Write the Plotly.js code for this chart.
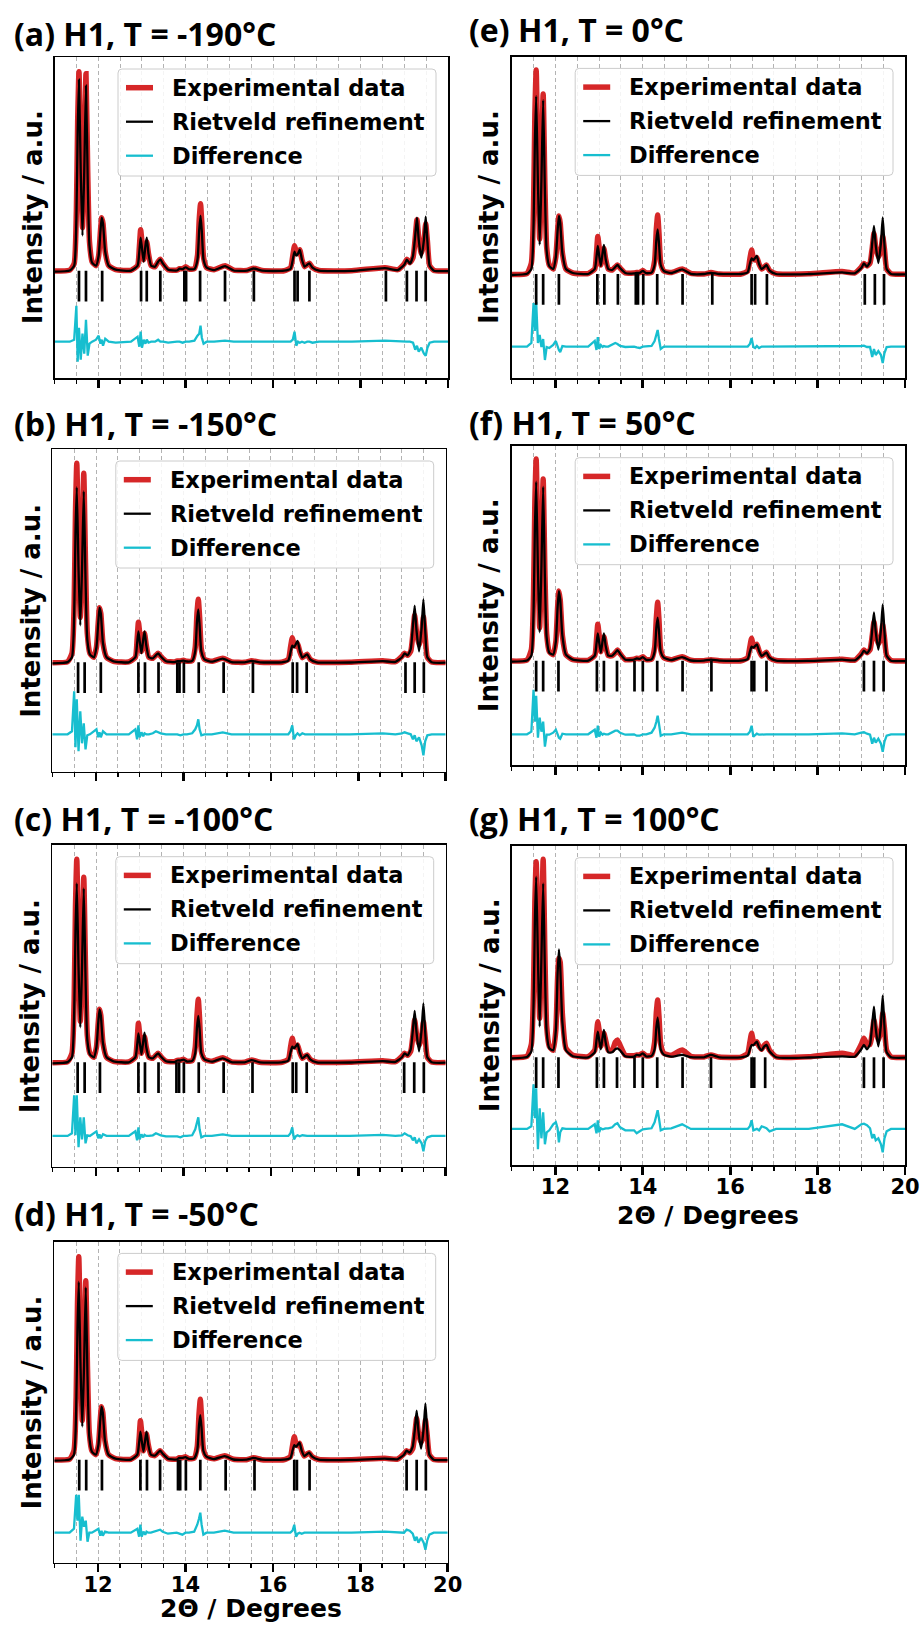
<!DOCTYPE html>
<html>
<head>
<meta charset="utf-8">
<script src="https://cdn.plot.ly/plotly-3.0.1.min.js"></script>
<style>
html, body { margin: 0; padding: 0; background: #fff; }
#chart { width: 922px; height: 1625px; }
</style>
</head>
<body>
<div id="chart"></div>
<script>
// 2θ sampling positions (degrees) shared by every pattern
const twoTheta = [
  11.00, 11.35, 11.45, 11.50, 11.53, 11.56, 11.60, 11.64, 11.68, 11.72,
  11.76, 11.80, 11.86, 11.95, 12.01, 12.05, 12.08, 12.11, 12.16, 12.24,
  12.40, 12.75, 12.90, 12.94, 12.97, 13.00, 13.04, 13.08, 13.11, 13.15,
  13.21, 13.30, 13.37, 13.42, 13.48, 13.60, 13.80, 13.86, 13.93, 14.00,
  14.08, 14.20, 14.27, 14.31, 14.34, 14.37, 14.41, 14.48, 14.65, 14.90,
  15.10, 15.40, 15.56, 15.75, 16.25, 16.40, 16.45, 16.49, 16.53, 16.57,
  16.61, 16.66, 16.72, 16.78, 16.83, 16.90, 17.05, 17.80, 18.56, 18.85,
  19.00, 19.06, 19.13, 19.20, 19.25, 19.29, 19.33, 19.39, 19.45, 19.49,
  19.53, 19.58, 19.68, 20.00
];

const seriesNames = ['Experimental data', 'Rietveld refinement', 'Difference'];
const panelTitles = [
  '(a) H1, T = -190°C', '(b) H1, T = -150°C', '(c) H1, T = -100°C', '(d) H1, T = -50°C',
  '(e) H1, T = 0°C', '(f) H1, T = 50°C', '(g) H1, T = 100°C'
];
const xTickLabels = ['12', '14', '16', '18', '20'];
const xTickValues = [12, 14, 16, 18, 20];

// (a) -190 °C
const obsA = [
  0.3, 0.8, 4, 30, 75, 100, 55, 22, 55, 99,
  50, 15, 5, 3, 8, 20, 27, 24, 10, 3,
  1, 0.7, 3, 12, 21, 15, 6, 12, 15, 9,
  3, 2.5, 5, 6.2, 4, 1, 0.8, 1.5, 1.5, 2.5,
  1.3, 1.5, 8, 26, 34, 24, 7, 2, 1, 3,
  0.8, 0.6, 1.7, 0.6, 0.5, 2, 8, 13, 10, 9,
  11, 6, 2.5, 3.5, 4.2, 2, 0.6, 0.5, 2, 1,
  4, 6.2, 4.5, 7, 17, 26, 17, 9, 15, 24,
  15, 3, 0.6, 0.4
];
const calcA = [
  0, 0.6, 3, 26, 70, 96, 50, 18, 50, 93,
  45, 13, 4.5, 3, 8, 20, 27, 24, 10, 3,
  1, 0.5, 3, 10, 17, 12, 5, 13, 17, 9,
  3, 2.5, 5, 6.2, 4, 1, 0.6, 1.5, 1.3, 2.2,
  1.2, 1.3, 6, 21, 28, 20, 6, 2, 0.8, 2.8,
  0.6, 0.5, 1.6, 0.5, 0.5, 1.5, 6, 10, 8, 9,
  11, 6, 2.5, 3.5, 4.2, 2, 0.5, 0.4, 1.8, 0.8,
  3.5, 6, 4, 8, 18, 27, 16, 7, 16, 27.5,
  15, 3, 0.5, 0.3
];
const diffA = [
  -35, -35, -34, -17, -45, -28, -44, -31, -41, -24,
  -42, -36, -35, -34, -32, -36, -34, -37, -33.5, -35,
  -35.5, -35, -32.5, -37.5, -30, -38, -34, -36, -34, -35.5,
  -35, -35, -34, -35, -35, -35.5, -35, -35, -35.5, -35,
  -35, -34.5, -32, -31, -27, -33, -36, -35, -35, -34.5,
  -35, -35, -35, -35, -35, -35, -34, -30, -37, -35,
  -35.5, -35, -35.5, -35, -35, -35.5, -35, -35, -34.5, -35,
  -35, -35, -35, -35.5, -39, -37, -40, -38, -41, -42,
  -38, -35.5, -35, -35
];
const reflA = [11.56, 11.72, 12.09, 12.98, 13.11, 13.42, 13.97, 14.01, 14.33, 14.90, 15.56, 16.49, 16.56, 16.83, 18.58, 19.06, 19.28, 19.49];

// (b) -150 °C
const obsB = [
  0.3, 0.8, 5, 30, 75, 100, 58, 23, 55, 95,
  50, 15, 5, 3, 8, 20, 27.8, 25, 10, 3,
  1, 0.7, 3, 12, 20.5, 15, 6, 12, 15, 9,
  3, 2.5, 4, 5, 3.5, 1, 0.7, 1.2, 1.2, 1.5,
  1, 1.3, 8, 25, 32, 23, 7, 2, 1, 2.5,
  0.7, 0.5, 1.3, 0.5, 0.5, 2, 8, 12.8, 9.5, 8.5,
  10, 6, 2.8, 3.8, 4.5, 2, 0.6, 0.5, 1.3, 0.8,
  3.5, 5, 4, 6, 15, 24, 16, 9, 14, 23.3,
  14, 3, 0.6, 0.4
];
const calcB = [
  0, 0.6, 3, 24, 65, 88, 47, 19, 47, 86,
  42, 12, 4.5, 3, 8, 20, 27.8, 25, 10, 3,
  1, 0.5, 3, 10, 16, 11, 5, 12, 16, 9,
  3, 2.5, 4, 5, 3.5, 1, 0.6, 1.1, 1.1, 1.3,
  0.9, 1.2, 6, 21, 27, 19, 6, 2, 0.8, 2.3,
  0.6, 0.5, 1.2, 0.5, 0.5, 1.4, 5.5, 8.8, 8, 9.5,
  11.2, 6.5, 2.8, 3.8, 4.5, 2, 0.5, 0.4, 1.1, 0.7,
  3, 5, 4, 7, 19, 28.8, 17, 6, 18, 32,
  17, 3, 0.5, 0.3
];
const diffB = [
  -35.5, -35.5, -34, -14, -42, -18, -44, -24, -40, -30,
  -43, -36, -35.5, -34, -33, -37, -34.5, -37, -34, -35.5,
  -35.5, -35.5, -33, -38, -31, -37, -34.5, -36.5, -35, -35.5,
  -35.5, -35, -34, -34.5, -35, -35.5, -35.5, -35.5, -36, -35.5,
  -35.5, -35, -33, -31, -28, -33, -36, -35.5, -35.5, -34.5,
  -35.5, -35.5, -35.5, -35.5, -35.5, -35.5, -34, -31, -38, -36,
  -35, -36, -35, -35.5, -35.5, -35.5, -35.5, -35.5, -35, -35.5,
  -35, -34.5, -35, -35.5, -38, -36, -39, -37, -41, -46,
  -39, -36, -35.5, -35.5
];
const reflB = [11.59, 11.74, 12.11, 12.97, 13.12, 13.43, 13.86, 13.91, 14.01, 14.35, 14.92, 15.59, 16.50, 16.60, 16.82, 19.08, 19.29, 19.50];

// (c) -100 °C
const obsC = [
  0.3, 0.8, 5, 32, 78, 102, 58, 21, 52, 93,
  48, 14, 5, 3, 8, 20, 27, 24, 10, 3,
  1, 0.7, 3, 11, 20, 14, 5, 10, 13.3, 8,
  3, 2.5, 4, 5, 3.5, 1, 0.8, 1.5, 1.5, 2,
  1, 1.3, 8, 24, 32, 22, 6, 2, 1, 2.8,
  0.7, 0.5, 1.7, 0.5, 0.5, 2, 8, 12.5, 9, 8,
  9.2, 5.5, 2.5, 3.5, 4.2, 2, 0.6, 0.5, 1.3, 0.8,
  3.5, 5, 4, 6, 14, 21.7, 15, 9, 13, 20.8,
  13, 3, 0.6, 0.4
];
const calcC = [
  0, 0.6, 3, 25, 66, 90, 48, 18, 48, 87.5,
  43, 12, 4.5, 3, 8, 20, 27, 24, 10, 3,
  1, 0.5, 3, 9, 15, 10.5, 4.5, 11, 15.3, 8,
  3, 2.5, 4, 5, 3.5, 1, 0.6, 1.4, 1.4, 1.8,
  0.9, 1.2, 5, 18, 23.7, 17, 5, 2, 0.8, 2.5,
  0.6, 0.5, 1.6, 0.5, 0.5, 1.4, 5.5, 8.3, 7.5, 8.5,
  9.7, 5.5, 2.5, 3.5, 4.2, 2, 0.5, 0.4, 1.1, 0.7,
  3, 5, 4, 7, 17, 26.2, 16, 6, 17, 30,
  16, 3, 0.5, 0.3
];
const diffC = [
  -36.3, -36.3, -35, -16, -36, -16, -42, -27, -38, -27,
  -40, -36, -36.3, -35, -34, -37.5, -35.5, -37.5, -35.5, -36.3,
  -36.3, -36.3, -34, -38.5, -32, -38, -35.5, -37, -35.8, -36.3,
  -36.3, -36, -35, -35.5, -36, -36.5, -36.3, -36.5, -37, -36.3,
  -36.3, -36, -33, -30, -27, -33, -37, -36.3, -36.3, -35.5,
  -36.3, -36.3, -36.3, -36.3, -36.3, -36.3, -35, -32, -38, -36.5,
  -36, -36.5, -36, -36.3, -36.3, -36.3, -36.3, -36.3, -35.8, -36.3,
  -36, -35, -36, -36.5, -38.5, -37, -40, -38, -40, -44,
  -39, -37, -36.3, -36.3
];
const reflC = [11.58, 11.74, 12.09, 12.97, 13.12, 13.43, 13.84, 13.90, 14.01, 14.35, 14.92, 15.58, 16.50, 16.58, 16.82, 19.05, 19.28, 19.50];

// (d) -50 °C
const obsD = [
  0.3, 0.8, 5, 32, 78, 102, 57, 20, 50, 90,
  46, 14, 5, 3, 8, 20, 27, 24, 10, 3,
  1, 0.7, 3, 11, 20, 14, 5, 10, 13.3, 8,
  3, 2.5, 4, 5, 3.5, 1, 0.8, 1.5, 1.5, 2,
  1, 1.3, 7, 23, 30.7, 21, 6, 2, 1, 2.5,
  0.7, 0.5, 1.5, 0.5, 0.5, 2, 7.5, 12, 8.5, 7.5,
  8.7, 5, 2.3, 3.3, 4, 2, 0.6, 0.5, 1.2, 0.8,
  3.5, 5, 4, 6, 14, 21.2, 14, 9, 13, 20.3,
  13, 3, 0.6, 0.4
];
const calcD = [
  0, 0.6, 3, 25, 66, 89.5, 47, 17, 47, 86.7,
  42, 12, 4.5, 3, 8, 20, 27, 24, 10, 3,
  1, 0.5, 3, 9, 14.5, 10, 4.5, 10.5, 14.5, 8,
  3, 2.5, 4, 5, 3.5, 1, 0.6, 1.4, 1.4, 1.8,
  0.9, 1.2, 5, 17.5, 22.8, 16, 5, 2, 0.8, 2.3,
  0.6, 0.5, 1.4, 0.5, 0.5, 1.3, 5, 7.8, 7, 8,
  9, 5, 2.3, 3.3, 4, 2, 0.5, 0.4, 1, 0.7,
  3, 5, 4, 7, 16, 25, 15, 6, 16, 28.7,
  15, 3, 0.5, 0.3
];
const diffD = [
  -36, -36, -34, -17, -30, -17, -40, -28, -33, -30,
  -40.5, -36, -36, -35, -34, -37.5, -35, -37.5, -35.5, -36,
  -36, -36, -34, -38, -32, -38, -35.5, -37, -35.5, -36,
  -36, -35.5, -35, -34.5, -35.5, -36.5, -36, -36.5, -37, -36,
  -36, -35.5, -32, -29, -26, -32, -37, -36, -36, -35,
  -36, -36, -36, -36, -36, -36, -35, -32, -38, -36.5,
  -36, -36.5, -36, -36, -36, -36, -36, -36, -35.5, -36,
  -36, -34.5, -35, -36.5, -40, -38, -41, -38.5, -41, -44.5,
  -40, -37, -36, -36
];
const reflD = [11.57, 11.73, 12.09, 12.97, 13.12, 13.42, 13.83, 13.88, 14.01, 14.34, 14.92, 15.58, 16.49, 16.55, 16.84, 19.06, 19.29, 19.50];

// (e) 0 °C
const obsE = [
  0.3, 0.8, 6, 34, 80, 102.5, 55, 18, 50, 90.5,
  45, 14, 5, 3, 9, 22, 29.5, 26, 11, 3,
  1, 0.7, 3, 11, 19.2, 14, 5, 10, 13.3, 8,
  3, 2.5, 4, 5, 3.5, 1, 1, 1.2, 1.2, 2.2,
  1, 1.3, 7, 23, 30, 21, 6, 2, 1.2, 3,
  0.8, 0.5, 1.2, 0.5, 0.5, 2, 8, 12.5, 8.5, 7.5,
  8.8, 5.5, 3, 4, 5, 2.2, 0.6, 0.6, 1.7, 1,
  4, 5.8, 4.5, 6, 13.5, 20.8, 14, 9, 12.5, 19.2,
  13, 3, 0.6, 0.4
];
const calcE = [
  0, 0.6, 3, 25, 66, 89.5, 46, 15, 47, 87.5,
  42, 12, 4.5, 3, 9, 22, 29.5, 26, 11, 3,
  1, 0.5, 3, 9, 14.5, 10, 4.5, 11, 15, 8,
  3, 2.5, 4, 5, 3.5, 1, 0.8, 1.1, 1.1, 2,
  0.9, 1.2, 5, 17.5, 22.8, 16, 5, 2, 1, 2.8,
  0.6, 0.5, 1.1, 0.5, 0.5, 1.4, 5.5, 8.3, 7.5, 8.5,
  9.5, 5.5, 3, 4, 5, 2.2, 0.5, 0.5, 1.3, 0.8,
  3.5, 5.8, 4.2, 6.5, 16, 24.5, 15, 6, 16, 28.8,
  15, 3, 0.5, 0.3
];
const diffE = [
  -35.8, -35.8, -34, -14, -28, -13.5, -34, -30, -36, -32,
  -42.5, -36, -36.5, -35, -33, -36, -37.5, -38.5, -35.5, -35.8,
  -35.8, -35.8, -33, -37.5, -31, -37, -35, -36, -35.5, -35.8,
  -35.8, -35, -34, -34.5, -35.5, -36, -35.8, -36.2, -36.5, -35.8,
  -35.8, -35.5, -33, -30, -27.5, -32, -37, -35.8, -35.8, -35.5,
  -35.8, -35.8, -35.8, -35.8, -35.8, -35.8, -34.5, -31.5, -36, -36.5,
  -35.5, -36.5, -35.8, -35.8, -35.8, -35.8, -35.8, -35.8, -35.5, -35.8,
  -35.5, -35.3, -36, -36, -41, -37, -40, -38, -40, -44,
  -39, -36, -35.8, -35.8
];
const reflE = [11.56, 11.72, 12.08, 12.96, 13.12, 13.43, 13.84, 13.89, 14.01, 14.33, 14.91, 15.59, 16.49, 16.57, 16.84, 19.08, 19.31, 19.52];

// (f) 50 °C
const obsF = [
  0.3, 0.8, 6, 34, 80, 101.3, 55, 17, 50, 91.3,
  45, 14, 5, 3.5, 10, 27, 35.3, 31, 13, 3.5,
  1, 0.7, 3, 11, 18.7, 13.5, 5, 10, 12.5, 8,
  3, 3, 4.5, 5.8, 4, 1, 1.2, 1.7, 1.5, 2.5,
  1, 1.3, 7, 22, 29.7, 21, 6, 2, 1, 2.5,
  0.7, 0.5, 1, 0.5, 0.5, 2, 7.5, 11.7, 8, 7.5,
  8.7, 5.5, 2.8, 3.8, 4.7, 2, 0.6, 0.5, 1.2, 0.8,
  4, 5.8, 4.5, 6, 13, 20, 13.5, 9, 12, 18.3,
  12, 3, 0.6, 0.4
];
const calcF = [
  0, 0.6, 3, 25, 66, 90, 46, 14.7, 47, 87.5,
  42, 12, 4.5, 3.5, 10, 27, 35.3, 31, 13, 3.5,
  1, 0.5, 3, 9, 14.2, 10, 4.5, 10.5, 14.2, 8,
  3, 3, 4.5, 5.8, 4, 1, 1, 1.6, 1.4, 2.3,
  0.9, 1.2, 5, 17, 22, 15.5, 5, 2, 0.8, 2.3,
  0.6, 0.5, 1, 0.5, 0.5, 1.3, 5, 7.5, 7, 7.8,
  8.7, 5.5, 2.8, 3.8, 4.7, 2, 0.5, 0.4, 1, 0.7,
  3.5, 5.5, 4.2, 6.5, 16, 24.7, 15, 6, 16, 28.7,
  15, 3, 0.5, 0.3
];
const diffF = [
  -36.3, -36.3, -35, -14, -30, -17, -38, -28, -35, -30,
  -42.5, -36.5, -36.5, -35.5, -34, -37, -38, -38.5, -36, -36.3,
  -36.3, -36.3, -34, -38, -32, -37.5, -35.5, -36.5, -36, -36.3,
  -36.3, -35.5, -34.5, -34.5, -35.5, -36.5, -36.3, -37, -37, -36.3,
  -36.3, -35.5, -33, -30, -27, -31, -37, -36.3, -36.3, -35.5,
  -36.3, -36.3, -36.3, -36.3, -36.3, -36.3, -35, -32, -37.5, -36.5,
  -36, -36.5, -36.3, -36.3, -36.3, -36.3, -36.3, -36.3, -35.8, -36.3,
  -35.5, -35.3, -36, -36.5, -41, -38, -40.5, -38.5, -41, -45,
  -40, -37, -36.3, -36.3
];
const reflF = [11.56, 11.72, 12.07, 12.95, 13.11, 13.41, 13.81, 14.00, 14.33, 14.91, 15.57, 16.49, 16.55, 16.83, 19.06, 19.29, 19.51];

// (g) 100 °C
const obsG = [
  0.3, 1, 7, 35, 78, 98.3, 62, 20, 60, 99.5,
  52, 16, 6, 4, 14, 40, 50, 48, 22, 5,
  1.5, 0.8, 4, 12, 18.3, 14, 6, 10, 12.5, 9,
  4, 4, 8, 9.2, 6.5, 1.5, 1.3, 1.7, 1.7, 2.5,
  1.2, 1.5, 8, 23, 29.2, 21, 7, 2.5, 1.5, 4.2,
  1, 0.7, 1.7, 0.6, 0.6, 2.5, 8, 12.5, 8.5, 7.5,
  8.3, 6, 4.5, 6.5, 7.5, 4, 0.8, 0.8, 2.5, 1.5,
  7, 10, 7, 7, 12.5, 19.2, 14, 9, 14, 22.5,
  15, 4, 0.7, 0.4
];
const calcG = [
  0, 0.6, 3.5, 27, 68, 90.8, 50, 15.8, 50, 87.5,
  44, 13, 5, 4, 14, 42, 54.5, 46, 18, 4,
  1, 0.5, 3, 9, 13.3, 9.5, 4.5, 10.5, 14.2, 8,
  3, 3, 4.5, 5, 4, 1, 0.8, 1.7, 1.5, 2.5,
  0.9, 1.2, 4.5, 15.5, 20.3, 14, 4.5, 1.8, 0.8, 1.7,
  0.6, 0.5, 1.7, 0.5, 0.5, 1.3, 4.5, 6.7, 6.5, 7.5,
  8.3, 5.5, 4, 6, 6.7, 3.5, 0.5, 0.4, 1, 0.8,
  4.5, 6.7, 4.5, 7, 17, 25.8, 15, 6, 17, 31.3,
  16, 3, 0.5, 0.3
];
const diffG = [
  -35.3, -35.3, -34, -13, -30, -15, -45.5, -25, -40, -27,
  -43, -37, -36, -33, -32, -35, -42, -37, -35, -35.3,
  -35.3, -35.3, -33, -37.5, -31, -37, -35, -35.5, -35.3, -35,
  -35, -34.5, -33, -32.5, -34.5, -36, -36, -37.5, -36.5, -35.5,
  -35.3, -35, -32, -29, -26, -30, -36, -35.3, -35, -33,
  -35.3, -35.3, -35.3, -35.3, -35.3, -35.3, -34, -31, -36, -35.5,
  -35.3, -36, -34, -34.5, -35, -36.5, -35.3, -35.3, -33, -35.3,
  -33, -32.7, -33.5, -35, -40, -38, -41, -40, -43, -47,
  -40, -36.5, -35.3, -35.3
];
const reflG = [11.56, 11.72, 12.07, 12.95, 13.11, 13.41, 13.81, 14.00, 14.33, 14.91, 15.56, 16.49, 16.55, 16.80, 19.06, 19.29, 19.51];

// ---- figure geometry (pixels in a 922 x 1625 page) ----
const W = 922, H = 1625;
const fx = v => v / W;
const fy = v => 1 - v / H;
// frame: [left, top, right, bottom]; base: pixel row of zero intensity
const panels = [
  { title: panelTitles[0], obs: obsA, calc: calcA, diff: diffA, refl: reflA, frame: [54.5, 57.3, 448, 378],       base: 271.7,  head: [12, 33.3],   xlab: false },
  { title: panelTitles[1], obs: obsB, calc: calcB, diff: diffB, refl: reflB, frame: [52.3, 449.3, 445.7, 771.7],  base: 663.3,  head: [12, 423.3],  xlab: false },
  { title: panelTitles[2], obs: obsC, calc: calcC, diff: diffC, refl: reflC, frame: [52.3, 845, 445.7, 1166.7],   base: 1063.3, head: [12, 818.3],  xlab: false },
  { title: panelTitles[3], obs: obsD, calc: calcD, diff: diffD, refl: reflD, frame: [54.3, 1241.7, 447.7, 1562.7], base: 1460.7, head: [12, 1213.3], xlab: true },
  { title: panelTitles[4], obs: obsE, calc: calcE, diff: diffE, refl: reflE, frame: [511.7, 56.7, 905, 378],      base: 275,    head: [467, 30],    xlab: false },
  { title: panelTitles[5], obs: obsF, calc: calcF, diff: diffF, refl: reflF, frame: [511.7, 446, 905, 765],       base: 661.7,  head: [467, 422.7], xlab: false },
  { title: panelTitles[6], obs: obsG, calc: calcG, diff: diffG, refl: reflG, frame: [511.7, 846, 905, 1165],      base: 1058.3, head: [467, 818.3], xlab: true }
];
const unitPx = 2;          // pixels per intensity unit
const reflLevel = -7.2;    // row of the reflection markers

const seriesStyles = [
  { color: '#d62728', width: 5.5 },
  { color: '#000000', width: 2.3 },
  { color: '#17becf', width: 2.3 }
];
const legendRows = [30.4, 64.4, 98.4];   // row centres below the frame top

const gridStyle = { showgrid: true, gridcolor: '#b3b3b3', gridwidth: 1, griddash: '4px,3px' };
const boldFont = (size) => ({ family: 'DejaVu Sans', size: size, weight: 'bold', color: '#000' });

// rounded rectangle (pixel corners) as a paper-coordinate SVG path
function roundedBox(x0, y0, x1, y1, rad) {
  const P = (x, y) => fx(x) + ',' + fy(y);
  return 'M' + P(x0 + rad, y0) + ' L' + P(x1 - rad, y0) + ' Q' + P(x1, y0) + ' ' + P(x1, y0 + rad) +
         ' L' + P(x1, y1 - rad) + ' Q' + P(x1, y1) + ' ' + P(x1 - rad, y1) +
         ' L' + P(x0 + rad, y1) + ' Q' + P(x0, y1) + ' ' + P(x0, y1 - rad) +
         ' L' + P(x0, y0 + rad) + ' Q' + P(x0, y0) + ' ' + P(x0 + rad, y0) + ' Z';
}

const traces = [];
const layout = {
  width: W, height: H,
  margin: { l: 0, r: 0, t: 0, b: 0 },
  paper_bgcolor: '#ffffff', plot_bgcolor: '#ffffff',
  font: { family: 'DejaVu Sans', color: '#000' },
  showlegend: false,
  annotations: [],
  shapes: []
};

panels.forEach((p, i) => {
  const k = i + 1;
  const s = k === 1 ? '' : String(k);
  const xa = 'x' + s, ya = 'y' + s;
  const [l, t, r, b] = p.frame;

  [p.obs, p.calc, p.diff].forEach((ys, j) => {
    traces.push({
      type: 'scatter', mode: 'lines', x: twoTheta, y: ys, xaxis: xa, yaxis: ya,
      name: seriesNames[j], hoverinfo: 'skip',
      line: Object.assign({}, seriesStyles[j], j < 2 ? { shape: 'spline', smoothing: 0.5 } : {})
    });
  });
  traces.push({
    type: 'scatter', mode: 'markers', x: p.refl, y: p.refl.map(() => reflLevel),
    xaxis: xa, yaxis: ya, name: 'reflections', hoverinfo: 'skip',
    marker: { symbol: 'line-ns', size: 22, color: '#000', line: { width: 2.7, color: '#000' } }
  });

  layout['xaxis' + s] = Object.assign({
    domain: [fx(l), fx(r)], anchor: ya, range: [11, 20],
    tickmode: 'array', tickvals: xTickValues, ticktext: xTickLabels,
    ticks: 'outside', ticklen: 8, tickwidth: 2.7, tickcolor: '#000',
    showticklabels: p.xlab, tickfont: boldFont(21), ticklabelstandoff: -6,
    showline: true, mirror: true, linecolor: '#000', linewidth: 1.6, zeroline: false,
    minor: Object.assign({ tickmode: 'linear', tick0: 0, dtick: 0.5, ticks: 'outside', ticklen: 4, tickwidth: 1.3, tickcolor: '#000' }, gridStyle)
  }, gridStyle);
  layout['yaxis' + s] = {
    domain: [fy(b), fy(t)], anchor: xa,
    range: [(p.base - b) / unitPx, (p.base - t) / unitPx],
    showticklabels: false, ticks: '', showgrid: false, zeroline: false,
    showline: true, mirror: true, linecolor: '#000', linewidth: 1.6
  };

  // legend box with line samples and labels
  layout.shapes.push({
    type: 'path', xref: 'paper', yref: 'paper', layer: 'above',
    path: roundedBox(l + 63.5, t + 11.7, r - 12, t + 118.7, 4),
    fillcolor: 'rgba(255,255,255,0.85)', line: { color: '#cccccc', width: 1 }
  });
  legendRows.forEach((row, j) => {
    layout.shapes.push({
      type: 'line', xref: 'paper', yref: 'paper', layer: 'above',
      x0: fx(l + 71.5), x1: fx(l + 98.5), y0: fy(t + row), y1: fy(t + row),
      line: { color: seriesStyles[j].color, width: seriesStyles[j].width }
    });
    layout.annotations.push({
      xref: 'paper', yref: 'paper', x: fx(l + 115.5), y: fy(t + row),
      xanchor: 'left', yanchor: 'middle', showarrow: false,
      text: seriesNames[j], font: boldFont(22.5)
    });
  });

  // panel heading
  layout.annotations.push({
    xref: 'paper', yref: 'paper', x: fx(p.head[0]), y: fy(p.head[1]),
    xanchor: 'left', yanchor: 'middle', showarrow: false, text: p.title,
    font: { family: 'Open Sans', size: 32, weight: 'bold', color: '#000' }
  });
  // intensity label
  layout.annotations.push({
    xref: 'paper', yref: 'paper', x: fx(l - 22), y: fy((t + b) / 2),
    xanchor: 'center', yanchor: 'middle', showarrow: false, textangle: -90,
    text: 'Intensity / a.u.', font: boldFont(26)
  });
  if (p.xlab) {
    const lowest = b + 50 > H - 17;
    layout.annotations.push({
      xref: 'paper', yref: 'paper', x: fx((l + r) / 2),
      y: lowest ? 0 : fy(b + 50), yanchor: lowest ? 'bottom' : 'middle',
      xanchor: 'center', showarrow: false,
      text: '2Θ / Degrees', font: boldFont(25)
    });
  }
});

Plotly.newPlot('chart', traces, layout, { staticPlot: true, displayModeBar: false });
</script>
</body>
</html>
